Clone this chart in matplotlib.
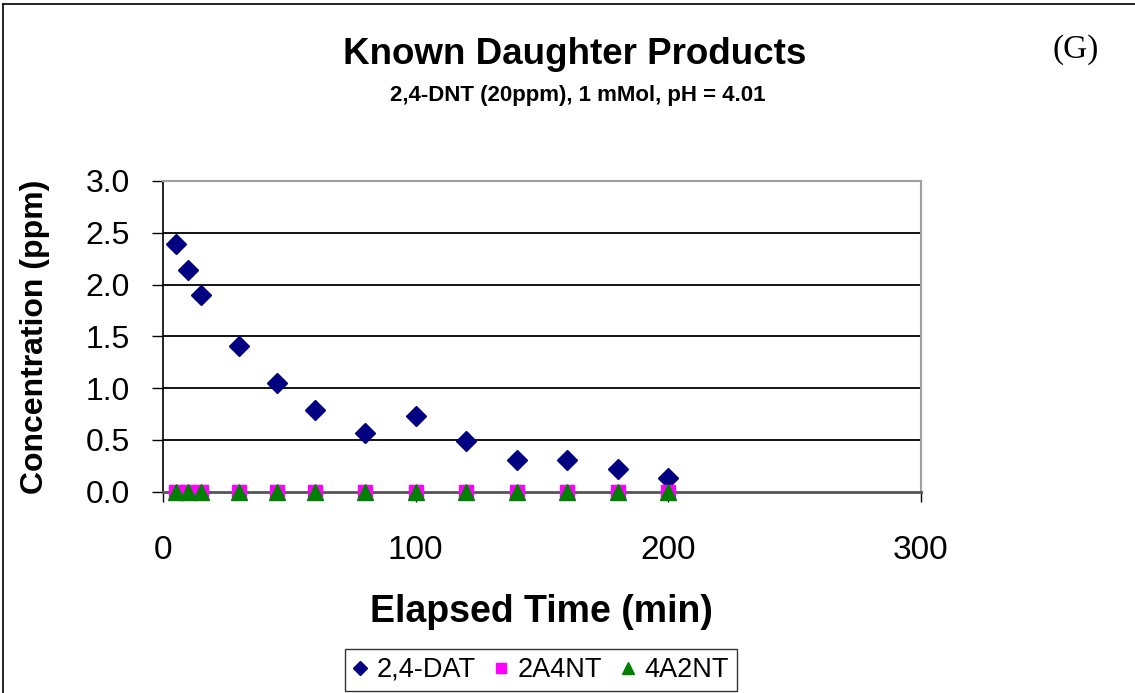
import matplotlib
matplotlib.use("Agg")
import matplotlib.pyplot as plt
from matplotlib.lines import Line2D

# ---- data ----
time_min = [5, 10, 15, 30, 45, 60, 80, 100, 120, 140, 160, 180, 200]
dat_24 = [2.39, 2.14, 1.90, 1.41, 1.05, 0.79, 0.57, 0.73, 0.49, 0.30, 0.30, 0.22, 0.13]
a4nt_2 = [0, 0, 0, 0, 0, 0, 0, 0, 0, 0, 0, 0, 0]
a2nt_4 = [0, 0, 0, 0, 0, 0, 0, 0, 0, 0, 0, 0, 0]
series_names = ["2,4-DAT", "2A4NT", "4A2NT"]
x_ticks = [0, 100, 200, 300]
y_ticks = [0.0, 0.5, 1.0, 1.5, 2.0, 2.5, 3.0]

plt.rcParams['font.family'] = ['Liberation Sans', 'DejaVu Sans']

W, H = 1135, 693
fig = plt.figure(figsize=(W / 100, H / 100), dpi=100)

def fx(px):
    return px / W

def fy(py):
    return 1 - py / H

# chart-area border (top and left visible)
fig.add_artist(Line2D([fx(3), fx(1135)], [fy(4), fy(4)], color='black', lw=1.2))
fig.add_artist(Line2D([fx(3), fx(3)], [fy(4), fy(693)], color='black', lw=1.2))

left, right, top, bottom = 163, 921, 181, 491.5
ax = fig.add_axes([fx(left), fy(bottom), fx(right - left), fy(top) - fy(bottom)])
ax.set_xlim(0, 300)
ax.set_ylim(0, 3.0)

for yv in y_ticks[1:-1]:
    ax.axhline(yv, color='black', lw=1.3, zorder=1)

ax.plot(time_min, dat_24, linestyle='none', marker='D', color='#000080',
        markersize=10, label=series_names[0], zorder=3, clip_on=False)
ax.plot(time_min, a4nt_2, linestyle='none', marker='s', color='#FF00FF',
        markersize=9.5, label=series_names[1], zorder=4, clip_on=False)
ax.plot(time_min, a2nt_4, linestyle='none', marker='^', color='#008000',
        markersize=11, label=series_names[2], zorder=5, clip_on=False)

ax.spines['top'].set_color('#a0a0a0')
ax.spines['right'].set_color('#a0a0a0')
ax.spines['left'].set_color('black')
ax.spines['bottom'].set_color('#555555')
ax.spines['top'].set_linewidth(1.5)
ax.spines['right'].set_linewidth(1.5)
ax.spines['left'].set_linewidth(1.2)
ax.spines['bottom'].set_linewidth(2.0)

ax.set_xticks(x_ticks)
ax.set_xticklabels([str(v) for v in x_ticks])
ax.set_yticks(y_ticks)
ax.set_yticklabels([f"{v:.1f}" for v in y_ticks])
ax.tick_params(axis='y', direction='out', length=8, width=1, color='black',
               labelsize=23, pad=16)
ax.tick_params(axis='x', direction='out', length=7, width=1, color='black',
               labelsize=24, pad=24)

fig.text(fx(575), fy(55), "Known Daughter Products", ha='center', va='center',
         fontsize=26.5, fontweight='bold')
fig.text(fx(578), fy(96), "2,4-DNT (20ppm), 1 mMol, pH = 4.01", ha='center',
         va='center', fontsize=16, fontweight='bold')
fig.text(fx(1076), fy(50), "(G)", ha='center', va='center', fontsize=24,
         family=['Liberation Serif', 'DejaVu Serif'])
fig.text(fx(541), fy(612), "Elapsed Time (min)", ha='center', va='center',
         fontsize=27, fontweight='bold')
fig.text(fx(35), fy(337), "Concentration (ppm)", ha='center', va='center',
         fontsize=23, fontweight='bold', rotation=90)

leg = fig.legend(loc='center', bbox_to_anchor=(fx(541), fy(670)), ncol=3,
                 fontsize=19.5, frameon=True, fancybox=False, edgecolor='black',
                 handlelength=0.5, handletextpad=0.35, columnspacing=0.7,
                 borderpad=0.3, markerscale=0.75)
leg.get_frame().set_linewidth(1.0)

fig.savefig("out.png", dpi=100)
